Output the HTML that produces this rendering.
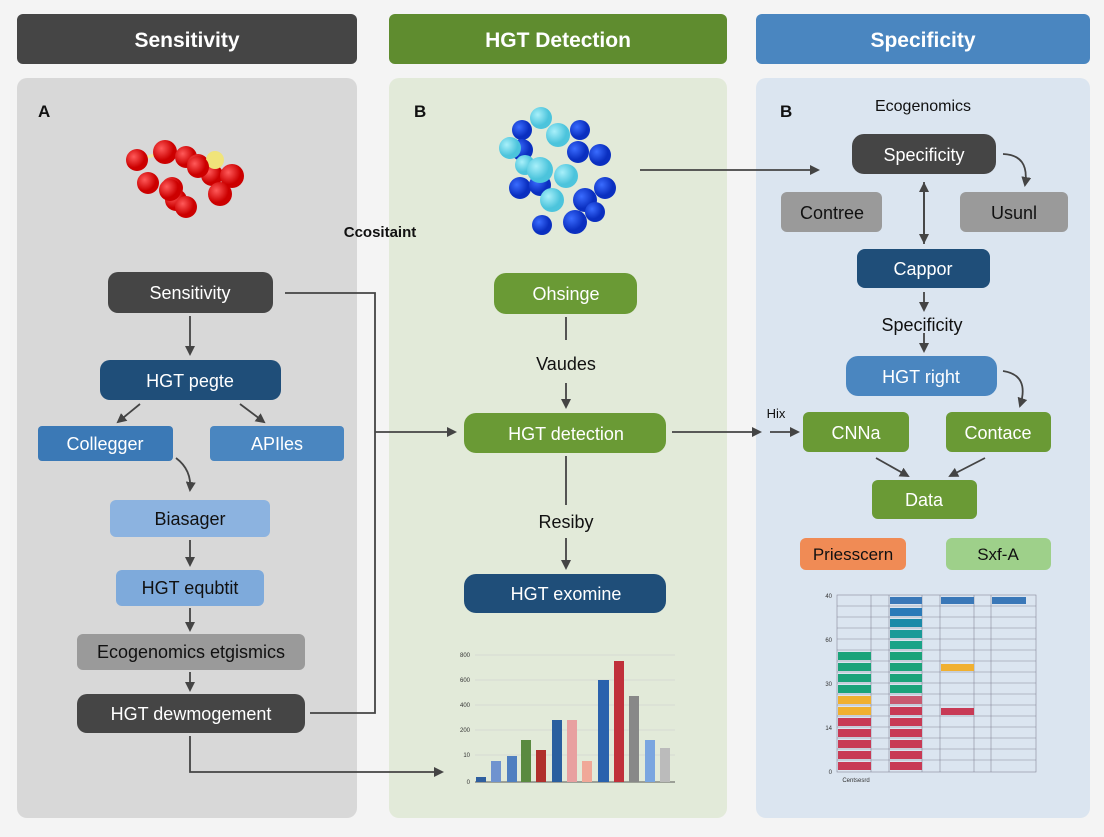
<!DOCTYPE html>
<html><head><meta charset="utf-8"><style>
body{margin:0;width:1104px;height:832px;background:#f4f4f4;font-family:"Liberation Sans",sans-serif;overflow:hidden}
</style></head><body>
<svg width="1104" height="832" viewBox="0 0 1104 832" xmlns="http://www.w3.org/2000/svg" font-family="Liberation Sans, sans-serif">
<defs>
<marker id="a" markerWidth="10" markerHeight="10" refX="8" refY="5" orient="auto" markerUnits="userSpaceOnUse"><path d="M0,0 L10,5 L0,10 z" fill="#444"/></marker>
<radialGradient id="r" cx="35%" cy="35%"><stop offset="0" stop-color="#ff5a5a"/><stop offset="1" stop-color="#c00"/></radialGradient>
<radialGradient id="b" cx="35%" cy="35%"><stop offset="0" stop-color="#3a6cff"/><stop offset="1" stop-color="#0a2fc0"/></radialGradient>
<radialGradient id="c" cx="35%" cy="35%"><stop offset="0" stop-color="#a8f0fa"/><stop offset="1" stop-color="#4cc4dc"/></radialGradient>
</defs>
<!-- headers -->
<rect x="17" y="14" width="340" height="50" rx="6" fill="#454545"/>
<rect x="389" y="14" width="338" height="50" rx="6" fill="#5f8c2f"/>
<rect x="756" y="14" width="334" height="50" rx="6" fill="#4a86c0"/>
<g fill="#fff" font-size="21" font-weight="bold" text-anchor="middle">
<text x="187" y="47">Sensitivity</text><text x="558" y="47">HGT Detection</text><text x="923" y="47">Specificity</text></g>
<!-- panels -->
<rect x="17" y="78" width="340" height="740" rx="10" fill="#d8d8d8"/>
<rect x="389" y="78" width="338" height="740" rx="10" fill="#e2ead9"/>
<rect x="756" y="78" width="334" height="740" rx="10" fill="#dbe5f0"/>
<g font-size="17" font-weight="bold" fill="#111"><text x="38" y="117">A</text><text x="414" y="117">B</text><text x="780" y="117">B</text></g>
<!-- red molecule -->
<g stroke="#eee8a0" stroke-width="3"><line x1="137" y1="160" x2="165" y2="152"/><line x1="211" y1="163" x2="220" y2="178"/></g>
<g fill="url(#r)">
<circle cx="137" cy="160" r="11"/><circle cx="148" cy="183" r="11"/><circle cx="172" cy="188" r="11"/><circle cx="176" cy="200" r="11"/><circle cx="186" cy="207" r="11"/><circle cx="165" cy="152" r="12"/><circle cx="186" cy="157" r="11"/>
<circle cx="212" cy="175" r="11"/><circle cx="198" cy="165" r="11"/></g>
<circle cx="215" cy="160" r="9" fill="#f0e47a"/>
<g fill="url(#r)"><circle cx="232" cy="176" r="12"/><circle cx="220" cy="194" r="12"/><circle cx="198" cy="167" r="11"/><circle cx="170" cy="190" r="11"/></g>
<!-- blue molecule -->
<g fill="url(#b)">
<circle cx="522" cy="130" r="10"/><circle cx="522" cy="150" r="11"/><circle cx="578" cy="152" r="11"/><circle cx="580" cy="130" r="10"/><circle cx="600" cy="155" r="11"/><circle cx="605" cy="188" r="11"/><circle cx="520" cy="188" r="11"/><circle cx="540" cy="185" r="11"/><circle cx="585" cy="200" r="12"/><circle cx="575" cy="222" r="12"/><circle cx="542" cy="225" r="10"/><circle cx="595" cy="212" r="10"/></g>
<g fill="url(#c)">
<circle cx="541" cy="118" r="11"/><circle cx="558" cy="135" r="12"/><circle cx="510" cy="148" r="11"/><circle cx="525" cy="165" r="10"/><circle cx="540" cy="170" r="13"/><circle cx="566" cy="176" r="12"/><circle cx="552" cy="200" r="12"/></g>
<text x="380" y="237" font-size="15" font-weight="bold" fill="#111" text-anchor="middle">Ccositaint</text>
<!-- connectors -->
<g stroke="#444" stroke-width="1.8" fill="none">
<path d="M285 293 H375 V713 H310"/>
<path d="M375 432 H455" marker-end="url(#a)"/>
<path d="M190 316 V354" marker-end="url(#a)"/>
<path d="M140 404 L118 422" marker-end="url(#a)"/>
<path d="M240 404 L264 422" marker-end="url(#a)"/>
<path d="M176 458 Q192 470 190 490" marker-end="url(#a)"/>
<path d="M190 540 V565" marker-end="url(#a)"/>
<path d="M190 608 V630" marker-end="url(#a)"/>
<path d="M190 672 V690" marker-end="url(#a)"/>
<path d="M190 736 V772 H442" marker-end="url(#a)"/>
<path d="M566 317 V340"/>
<path d="M566 383 V407" marker-end="url(#a)"/>
<path d="M566 456 V505"/>
<path d="M566 538 V568" marker-end="url(#a)"/>
<path d="M672 432 H760" marker-end="url(#a)"/>
<path d="M770 432 H798" marker-end="url(#a)"/>
<path d="M640 170 H818" marker-end="url(#a)"/>
<path d="M1003 154 Q1030 155 1025 185" marker-end="url(#a)"/>
<path d="M924 182 V242" marker-end="url(#a)"/><path d="M924 244 V184" marker-end="url(#a)"/>
<path d="M924 292 V310" marker-end="url(#a)"/>
<path d="M924 333 V351" marker-end="url(#a)"/>
<path d="M1003 371 Q1030 375 1020 406" marker-end="url(#a)"/>
<path d="M876 458 L908 476" marker-end="url(#a)"/>
<path d="M985 458 L950 476" marker-end="url(#a)"/>
</g>
<!-- nodes -->
<g font-size="18" text-anchor="middle">
<rect x="108" y="272" width="165" height="41" rx="10" fill="#454545"/><text x="190" y="299" fill="#fff">Sensitivity</text>
<rect x="100" y="360" width="181" height="40" rx="10" fill="#1f4e79"/><text x="190" y="387" fill="#fff">HGT pegte</text>
<rect x="38" y="426" width="135" height="35" rx="4" fill="#3b79b6"/><text x="105" y="450" fill="#fff">Collegger</text>
<rect x="210" y="426" width="134" height="35" rx="4" fill="#4a86c0"/><text x="277" y="450" fill="#fff">APIles</text>
<rect x="110" y="500" width="160" height="37" rx="6" fill="#8cb3e0"/><text x="190" y="525" fill="#111">Biasager</text>
<rect x="116" y="570" width="148" height="36" rx="6" fill="#7eaadb"/><text x="190" y="594" fill="#111">HGT equbtit</text>
<rect x="77" y="634" width="228" height="36" rx="6" fill="#9a9a9a"/><text x="191" y="658" fill="#111">Ecogenomics etgismics</text>
<rect x="77" y="694" width="228" height="39" rx="10" fill="#454545"/><text x="191" y="720" fill="#fff">HGT dewmogement</text>
<rect x="494" y="273" width="143" height="41" rx="12" fill="#6a9a35"/><text x="566" y="300" fill="#fff">Ohsinge</text>
<text x="566" y="370" fill="#111">Vaudes</text>
<rect x="464" y="413" width="202" height="40" rx="12" fill="#6a9a35"/><text x="566" y="440" fill="#fff">HGT detection</text>
<text x="566" y="528" fill="#111">Resiby</text>
<rect x="464" y="574" width="202" height="39" rx="12" fill="#1f4e79"/><text x="566" y="600" fill="#fff">HGT exomine</text>
<text x="923" y="111" font-size="16" fill="#111">Ecogenomics</text>
<rect x="852" y="134" width="144" height="40" rx="12" fill="#454545"/><text x="924" y="161" fill="#fff">Specificity</text>
<rect x="781" y="192" width="101" height="40" rx="6" fill="#9a9a9a"/><text x="832" y="219" fill="#111">Contree</text>
<rect x="960" y="192" width="108" height="40" rx="6" fill="#9a9a9a"/><text x="1014" y="219" fill="#111">Usunl</text>
<rect x="857" y="249" width="133" height="39" rx="8" fill="#1f4e79"/><text x="923" y="275" fill="#fff">Cappor</text>
<text x="922" y="331" fill="#111">Specificity</text>
<rect x="846" y="356" width="151" height="40" rx="12" fill="#4a86c0"/><text x="921" y="383" fill="#fff">HGT right</text>
<rect x="803" y="412" width="106" height="40" rx="6" fill="#6a9a35"/><text x="856" y="439" fill="#fff">CNNa</text>
<rect x="946" y="412" width="105" height="40" rx="6" fill="#6a9a35"/><text x="998" y="439" fill="#fff">Contace</text>
<rect x="872" y="480" width="105" height="39" rx="6" fill="#6a9a35"/><text x="924" y="506" fill="#fff">Data</text>
<rect x="800" y="538" width="106" height="32" rx="6" fill="#f08b55"/><text x="853" y="560" fill="#111" font-size="17">Priesscern</text>
<rect x="946" y="538" width="105" height="32" rx="6" fill="#9ed08a"/><text x="998" y="560" fill="#111" font-size="17">Sxf-A</text>
<text x="776" y="418" font-size="13" fill="#111">Hix</text>
</g>
<!-- bar chart -->
<g stroke="#ccc" stroke-width="0.6"><line x1="475" y1="655" x2="675" y2="655"/><line x1="475" y1="680" x2="675" y2="680"/><line x1="475" y1="705" x2="675" y2="705"/><line x1="475" y1="730" x2="675" y2="730"/><line x1="475" y1="755" x2="675" y2="755"/></g>
<line x1="475" y1="782" x2="675" y2="782" stroke="#555"/>
<g>
<rect x="476" y="777" width="10" height="5" fill="#2f5f9f"/>
<rect x="491" y="761" width="10" height="21" fill="#6f93cf"/>
<rect x="507" y="756" width="10" height="26" fill="#4f7fc0"/>
<rect x="521" y="740" width="10" height="42" fill="#5a8a40"/>
<rect x="536" y="750" width="10" height="32" fill="#b0302c"/>
<rect x="552" y="720" width="10" height="62" fill="#2a5f9f"/>
<rect x="567" y="720" width="10" height="62" fill="#e8a0a0"/>
<rect x="582" y="761" width="10" height="21" fill="#f0a898"/>
<rect x="598" y="680" width="11" height="102" fill="#2a62ad"/>
<rect x="614" y="661" width="10" height="121" fill="#c0303a"/>
<rect x="629" y="696" width="10" height="86" fill="#888"/>
<rect x="645" y="740" width="10" height="42" fill="#7aa6e0"/>
<rect x="660" y="748" width="10" height="34" fill="#bbb"/>
</g>
<g font-size="6" fill="#333" text-anchor="end"><text x="470" y="657">800</text><text x="470" y="682">600</text><text x="470" y="707">400</text><text x="470" y="732">200</text><text x="470" y="757">10</text><text x="470" y="784">0</text></g>
<!-- right chart -->
<g stroke="#889" stroke-width="0.6" fill="none">
<rect x="837" y="595" width="199" height="177"/>
<line x1="871" y1="595" x2="871" y2="772"/><line x1="889" y1="595" x2="889" y2="772"/><line x1="922" y1="595" x2="922" y2="772"/><line x1="940" y1="595" x2="940" y2="772"/><line x1="974" y1="595" x2="974" y2="772"/><line x1="991" y1="595" x2="991" y2="772"/>
<path d="M837 606H1036M837 617H1036M837 628H1036M837 639H1036M837 650H1036M837 661H1036M837 672H1036M837 683H1036M837 694H1036M837 705H1036M837 716H1036M837 727H1036M837 738H1036M837 749H1036M837 760H1036"/>
</g>
<g>
<rect x="838" y="652" width="33" height="8" fill="#1aa37a"/><rect x="838" y="663" width="33" height="8" fill="#1aa37a"/><rect x="838" y="674" width="33" height="8" fill="#1aa37a"/><rect x="838" y="685" width="33" height="8" fill="#1aa37a"/>
<rect x="838" y="696" width="33" height="8" fill="#f0b030"/><rect x="838" y="707" width="33" height="8" fill="#f0b030"/>
<rect x="838" y="718" width="33" height="8" fill="#c83a55"/><rect x="838" y="729" width="33" height="8" fill="#c83a55"/><rect x="838" y="740" width="33" height="8" fill="#c83a55"/><rect x="838" y="751" width="33" height="8" fill="#c83a55"/><rect x="838" y="762" width="33" height="8" fill="#c83a55"/>
<rect x="890" y="597" width="32" height="7" fill="#3a78b8"/><rect x="890" y="608" width="32" height="8" fill="#2a7ab8"/><rect x="890" y="619" width="32" height="8" fill="#1a8aa8"/><rect x="890" y="630" width="32" height="8" fill="#1a9a98"/><rect x="890" y="641" width="32" height="8" fill="#1aa388"/><rect x="890" y="652" width="32" height="8" fill="#1aa37a"/><rect x="890" y="663" width="32" height="8" fill="#1aa37a"/><rect x="890" y="674" width="32" height="8" fill="#1aa37a"/><rect x="890" y="685" width="32" height="8" fill="#1aa37a"/>
<rect x="890" y="696" width="32" height="8" fill="#c85a70"/><rect x="890" y="707" width="32" height="8" fill="#c83a55"/><rect x="890" y="718" width="32" height="8" fill="#c83a55"/><rect x="890" y="729" width="32" height="8" fill="#c83a55"/><rect x="890" y="740" width="32" height="8" fill="#c83a55"/><rect x="890" y="751" width="32" height="8" fill="#c83a55"/><rect x="890" y="762" width="32" height="8" fill="#c83a55"/>
<rect x="941" y="597" width="33" height="7" fill="#3a78b8"/><rect x="941" y="664" width="33" height="7" fill="#f0b030"/><rect x="941" y="708" width="33" height="7" fill="#c83a55"/>
<rect x="992" y="597" width="34" height="7" fill="#3a78b8"/>
</g>
<g font-size="6" fill="#333" text-anchor="end"><text x="832" y="598">40</text><text x="832" y="642">60</text><text x="832" y="686">30</text><text x="832" y="730">14</text><text x="832" y="774">0</text></g>
<text x="856" y="782" font-size="6" fill="#333" text-anchor="middle">Centsesrd</text>
</svg>
</body></html>
